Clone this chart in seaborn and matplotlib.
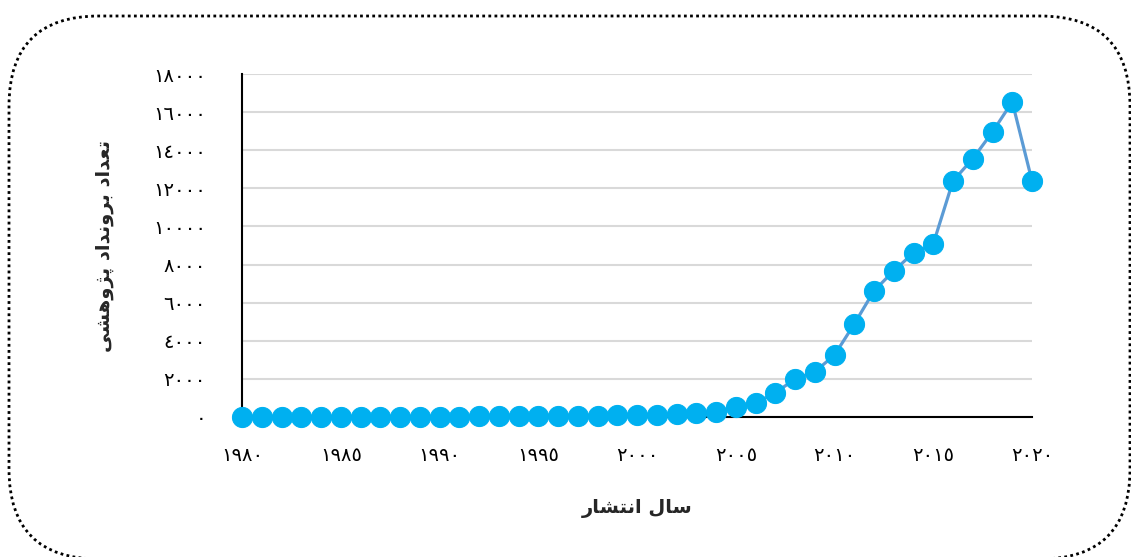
import matplotlib
matplotlib.use("Agg")
import matplotlib.pyplot as plt
import matplotlib.transforms as mtransforms
from matplotlib.patches import FancyBboxPatch
from matplotlib.ticker import FixedLocator, FuncFormatter
import seaborn as sns

years = list(range(1980, 2021))
counts = [5, 6, 8, 9, 10, 12, 14, 15, 17, 19, 22, 25, 28, 32, 36, 40, 45, 55,
          65, 80, 100, 120, 150, 220, 250, 520, 740, 1260, 2000, 2370, 3250,
          4880, 6620, 7670, 8610, 9080, 12390, 13550, 14960, 16540, 12390]

y_ticks = list(range(0, 18001, 2000))
x_ticks = list(range(1980, 2021, 5))

# labels, already shaped (presentation forms) and in visual order
x_title = "\uFEB3\uFE8E\uFEDD \uFE8D\uFEE7\uFE98\uFEB8\uFE8E\uFEAD"[::-1]
y_title = ("\uFE97\uFECC\uFEAA\uFE8D\uFEA9 "
           "\uFE91\uFEAE\uFEED\uFEE7\uFEAA\uFE8D\uFEA9 "
           "\uFB58\uFB8B\uFEED\uFEEB\uFEB8\uFBFD")[::-1]

AR_DIGITS = str.maketrans("0123456789", "\u0660\u0661\u0662\u0663\u0664\u0665\u0666\u0667\u0668\u0669")


def ar_num(v, pos=None):
    return str(int(round(v))).translate(AR_DIGITS)


sns.set_style("white")
plt.rcParams['font.family'] = ['DejaVu Sans']

fig = plt.figure(figsize=(11.31, 5.57), dpi=100)
ax = fig.add_axes([242 / 1131, 1 - 417 / 557, (1032 - 242) / 1131, (417 - 74) / 557])

sns.lineplot(x=years, y=counts, ax=ax, color="#5B9BD5", linewidth=2.3,
             marker="o", markersize=14.5, markerfacecolor="#00B0F0",
             markeredgecolor="#00B0F0", clip_on=False, zorder=3)

ax.set_xlim(1980, 2020)
ax.set_ylim(0, 18000)
ax.yaxis.set_major_locator(FixedLocator(y_ticks))
ax.xaxis.set_major_locator(FixedLocator(x_ticks))
ax.yaxis.set_major_formatter(FuncFormatter(ar_num))
ax.xaxis.set_major_formatter(FuncFormatter(ar_num))
ax.grid(axis="y", color="#D9D9D9", linewidth=1.5)
ax.grid(axis="x", visible=False)
ax.set_axisbelow(True)

for side in ["top", "right"]:
    ax.spines[side].set_visible(False)
ax.spines["left"].set_color("black")
ax.spines["left"].set_linewidth(1.5)
ax.spines["bottom"].set_color("black")
ax.spines["bottom"].set_linewidth(1.5)

ax.tick_params(axis="y", length=0, pad=26, labelsize=14, colors="black")
ax.tick_params(axis="x", length=0, pad=21, labelsize=14, colors="black")

ax.set_xlabel(x_title, fontsize=14, fontweight="bold", labelpad=24)
ax.set_ylabel(y_title, fontsize=14, fontweight="bold", labelpad=28)

# dotted rounded frame around the chart
frame = FancyBboxPatch((9, -2), 1121, 543,
                       boxstyle="round,pad=0,rounding_size=90",
                       transform=mtransforms.IdentityTransform(),
                       fill=False, edgecolor="black", linewidth=2,
                       linestyle=(0, (1, 1.2)))
fig.patches.append(frame)

fig.savefig("out.png", dpi=100)
